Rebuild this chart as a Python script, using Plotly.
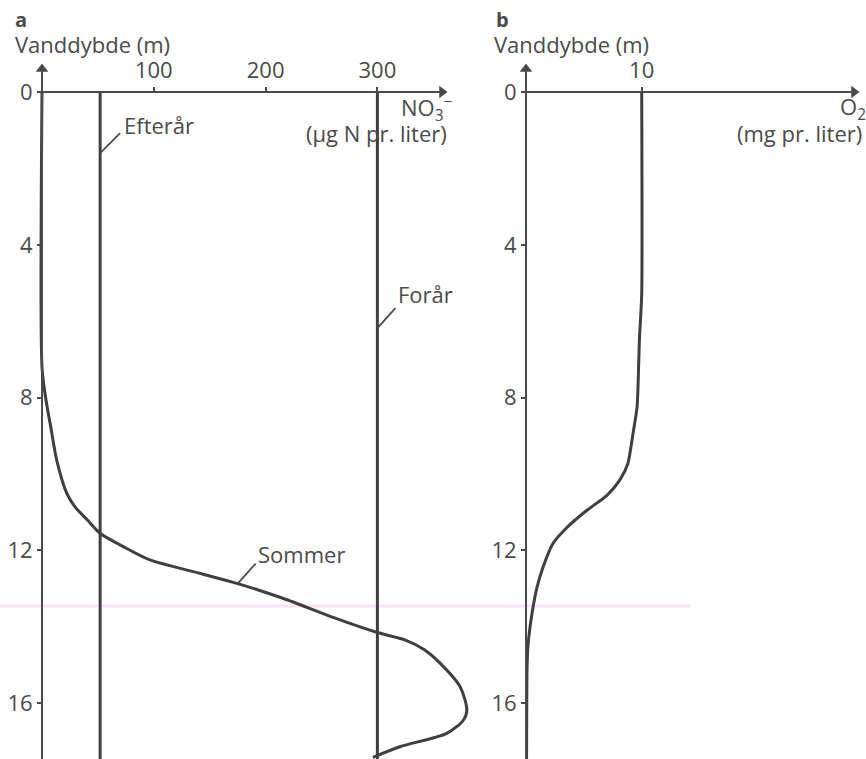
import plotly.graph_objects as go

W, H = 866, 759

# ---------------- data ----------------
depth_ticks = [0, 4, 8, 12, 16]
no3_ticks = [100, 200, 300]
o2_ticks = [10]

season_names = ["Efterår", "Forår", "Sommer"]

efteraar_depth = [0, 17.5]
efteraar_no3 = [52, 52]

foraar_depth = [0, 17.5]
foraar_no3 = [300, 300]

sommer_depth = [0, 7.2, 7.9, 8.33, 8.76, 9.63, 10.5, 10.86, 11.2, 11.55, 11.9, 12.25,
                12.6, 12.87, 13.26, 13.76, 14.15, 14.35, 14.6, 14.95, 15.57, 16.18, 16.44,
                16.79, 17.14, 17.42]
sommer_no3 = [0, 0, 2.7, 5.1, 7.8, 13.1, 22.1, 29.5, 40.5, 51.9, 72.7, 96.6,
              141, 175, 216, 261, 300, 325, 342, 356, 374, 380, 377,
              362, 320, 296]

o2_depth = [0, 5.3, 6.5, 7.54, 8.25, 8.94, 9.73, 10.16, 10.56, 10.95, 11.4, 11.82,
            12.44, 12.97, 13.65, 14.5, 15.1, 17.5]
o2_mg = [10, 10, 9.8, 9.7, 9.6, 9.25, 8.8, 8.1, 7.0, 5.27, 3.54, 2.33,
         1.47, 0.95, 0.52, 0.17, 0.09, 0.05]

# ---------------- geometry (pixels) ----------------
Y0_PX = 92          # depth 0
PX_PER_M = 38.2
TOP_PX = 55
A_AXIS_PX = 42
A_PX_PER_UNIT = 1.118
A_RIGHT_PX = 505
B_AXIS_PX = 526
B_PX_PER_UNIT = 11.57
B_LEFT_PX = 510
ARROW_TOP_PX = 63
A_ARROW_PX = 448
B_ARROW_PX = 860

def fx(p):
    return p / W

def fy(p):
    return 1 - p / H

y_range = [(H - Y0_PX) / PX_PER_M, (TOP_PX - Y0_PX) / PX_PER_M]
y_domain = [0, fy(TOP_PX)]
xa_range = [(0 - A_AXIS_PX) / A_PX_PER_UNIT, (A_RIGHT_PX - A_AXIS_PX) / A_PX_PER_UNIT]
xb_range = [(B_LEFT_PX - B_AXIS_PX) / B_PX_PER_UNIT, (W - B_AXIS_PX) / B_PX_PER_UNIT]

LINE_C = "#3f3f3f"
AXIS_C = "#4a4a4a"
TEXT_C = "#4a4a4a"
FONT = "Open Sans"
FS = 22

fig = go.Figure()
fig.add_trace(go.Scatter(x=efteraar_no3, y=efteraar_depth, mode="lines",
                         line=dict(color=LINE_C, width=3), xaxis="x", yaxis="y",
                         name=season_names[0]))
fig.add_trace(go.Scatter(x=foraar_no3, y=foraar_depth, mode="lines",
                         line=dict(color=LINE_C, width=3), xaxis="x", yaxis="y",
                         name=season_names[1]))
fig.add_trace(go.Scatter(x=sommer_no3, y=sommer_depth, mode="lines",
                         line=dict(color=LINE_C, width=3, shape="spline", smoothing=0.8),
                         xaxis="x", yaxis="y", name=season_names[2]))
fig.add_trace(go.Scatter(x=o2_mg, y=o2_depth, mode="lines",
                         line=dict(color=LINE_C, width=3, shape="spline", smoothing=0.6),
                         xaxis="x2", yaxis="y2", name="O2"))

# arrow heads at axis ends (axis decoration)
tip_up_depth = (ARROW_TOP_PX + 6 - Y0_PX) / PX_PER_M
fig.add_trace(go.Scatter(x=[0], y=[tip_up_depth], mode="markers", xaxis="x", yaxis="y",
                         marker=dict(symbol="triangle-up", size=11, color=AXIS_C),
                         cliponaxis=False, hoverinfo="skip"))
fig.add_trace(go.Scatter(x=[(A_ARROW_PX - 6 - A_AXIS_PX) / A_PX_PER_UNIT], y=[0], mode="markers",
                         xaxis="x", yaxis="y",
                         marker=dict(symbol="triangle-right", size=11, color=AXIS_C),
                         cliponaxis=False, hoverinfo="skip"))
fig.add_trace(go.Scatter(x=[0], y=[tip_up_depth], mode="markers", xaxis="x2", yaxis="y2",
                         marker=dict(symbol="triangle-up", size=11, color=AXIS_C),
                         cliponaxis=False, hoverinfo="skip"))
fig.add_trace(go.Scatter(x=[(B_ARROW_PX - 6 - B_AXIS_PX) / B_PX_PER_UNIT], y=[0], mode="markers",
                         xaxis="x2", yaxis="y2",
                         marker=dict(symbol="triangle-right", size=11, color=AXIS_C),
                         cliponaxis=False, hoverinfo="skip"))

common_ax = dict(showgrid=False, zeroline=False, showline=False, ticks="outside",
                 ticklen=5, tickwidth=2, tickcolor=AXIS_C,
                 tickfont=dict(family=FONT, size=FS, color=TEXT_C), fixedrange=True)

fig.update_layout(
    width=W, height=H, margin=dict(l=0, r=0, t=0, b=0),
    paper_bgcolor="white", plot_bgcolor="rgba(0,0,0,0)",
    showlegend=False,
    font=dict(family=FONT, size=FS, color=TEXT_C),
    xaxis=dict(domain=[0, fx(A_RIGHT_PX)], range=xa_range, anchor="free",
               position=fy(Y0_PX), side="top", tickvals=no3_ticks, **common_ax),
    yaxis=dict(domain=y_domain, range=y_range, anchor="free",
               position=fx(A_AXIS_PX), side="left", tickvals=depth_ticks, **common_ax),
    xaxis2=dict(domain=[fx(B_LEFT_PX), 1], range=xb_range, anchor="free",
                position=fy(Y0_PX), side="top", tickvals=o2_ticks, **common_ax),
    yaxis2=dict(domain=y_domain, range=y_range, anchor="free",
                position=fx(B_AXIS_PX), side="left", tickvals=depth_ticks, **common_ax),
)

shapes = []

def pline(x0, y0, x1, y1, width=2, color=AXIS_C):
    shapes.append(dict(type="line", xref="paper", yref="paper",
                       x0=fx(x0), y0=fy(y0), x1=fx(x1), y1=fy(y1),
                       line=dict(color=color, width=width)))

# axis lines
pline(A_AXIS_PX, Y0_PX, A_ARROW_PX - 8, Y0_PX)
pline(A_AXIS_PX, ARROW_TOP_PX + 8, A_AXIS_PX, H)
pline(B_AXIS_PX, Y0_PX, B_ARROW_PX - 8, Y0_PX)
pline(B_AXIS_PX, ARROW_TOP_PX + 8, B_AXIS_PX, H)

def leader(xd, yd, dx_px, dy_px):
    shapes.append(dict(type="line", xref="x", yref="y",
                       x0=xd, y0=yd, x1=xd + dx_px / A_PX_PER_UNIT, y1=yd + dy_px / PX_PER_M,
                       line=dict(color=AXIS_C, width=1.8)))

leader(efteraar_no3[0], 1.6, 20, -20)
leader(foraar_no3[0], 6.18, 18, -20)
leader(sommer_no3[13], sommer_depth[13], 18, -20)

# faint scan artefact line
shapes.append(dict(type="line", xref="paper", yref="paper", x0=0, x1=fx(690),
                   y0=fy(606), y1=fy(606),
                   line=dict(color="rgba(240,170,220,0.35)", width=3), layer="below"))

ann = []

def label(text, px_x, px_y, xanchor="left", size=FS, bold=False):
    ann.append(dict(x=fx(px_x), y=fy(px_y), xref="paper", yref="paper",
                    text=("<b>%s</b>" % text) if bold else text, showarrow=False,
                    xanchor=xanchor, yanchor="middle",
                    font=dict(family=FONT, size=size, color=TEXT_C)))

label(season_names[0], 122, 125)
label(season_names[1], 396, 294)
label(season_names[2], 256, 554)

label("a", 13, 20, bold=True, size=20)
label("Vanddybde (m)", 13, 44)
label("b", 494, 20, bold=True, size=20)
label("Vanddybde (m)", 492, 44)

label("NO<sub>3</sub><sup>−</sup>", 455, 108, xanchor="right")
label("(μg N pr. liter)", 449, 133, xanchor="right")
label("O<sub>2</sub>", 868, 108, xanchor="right")
label("(mg pr. liter)", 864, 133, xanchor="right")

fig.update_layout(annotations=ann, shapes=shapes)

fig.write_html("out.html", config={"displayModeBar": False},
               post_script="document.body.style.margin='0';document.body.style.overflow='hidden';")
